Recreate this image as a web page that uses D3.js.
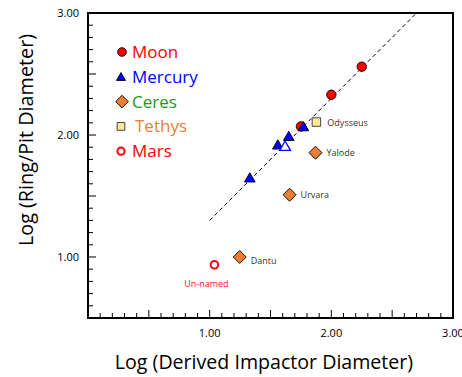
<!DOCTYPE html>
<html><head><meta charset="utf-8">
<script src="https://cdn.jsdelivr.net/npm/d3@7"></script>
<style>body{margin:0;background:#fff}svg{display:block}</style>
</head><body>
<script>
const moon = [[1.75,2.07],[2.00,2.33],[2.25,2.56]];
const mercury = [[1.77,2.06],[1.65,1.98],[1.56,1.91],[1.33,1.64]];
const mercuryOpen = [[1.62,1.90]];
const ceres = [[1.87,1.855,"Yalode"],[1.657,1.51,"Urvara"],[1.247,1.0,"Dantu"]];
const tethys = [[1.877,2.106,"Odysseus"]];
const mars = [[1.039,0.936,"Un-named"]];
const fitLine = [[1.0,1.3],[2.7,3.0]];
const xTicks = [1,2,3];
const yTicks = [1,2,3];
const legendItems = [
  {name:"Moon", color:"#ff0000"},
  {name:"Mercury", color:"#0000ff"},
  {name:"Ceres", color:"#1e961e"},
  {name:"Tethys", color:"#ed7d31"},
  {name:"Mars", color:"#ff0000"}
];

const W=462,H=377, L=88,R=453,T=13,B=318;
const svg=d3.select("body").append("svg").attr("width",W).attr("height",H);
const x=d3.scaleLinear().domain([0,3]).range([L,R]);
const y=d3.scaleLinear().domain([0.5,3]).range([B,T]);
const font="'Open Sans', sans-serif";

// minor / major ticks (inward)
const xMinor=d3.range(0,31).map(i=>i/10);
svg.append("g").selectAll("line").data(xMinor).join("line")
  .attr("x1",d=>x(d)).attr("x2",d=>x(d))
  .attr("y1",B).attr("y2",(d,i)=>B-(i%5===0?8:5))
  .attr("stroke","#000").attr("stroke-width",1);
const yMinor=d3.range(5,31).map(i=>i/10);
svg.append("g").selectAll("line").data(yMinor).join("line")
  .attr("y1",d=>y(d)).attr("y2",d=>y(d))
  .attr("x1",L).attr("x2",(d,i)=>L+(Math.round(d*10)%5===0?8:5))
  .attr("stroke","#000").attr("stroke-width",1);

// frame
svg.append("rect").attr("x",L).attr("y",T).attr("width",R-L).attr("height",B-T)
  .attr("fill","none").attr("stroke","#000").attr("stroke-width",2);

// tick labels
svg.append("g").selectAll("text").data(xTicks).join("text")
  .attr("x",d=>x(d)).attr("y",B+19).attr("text-anchor","middle")
  .attr("font-family",font).attr("font-size",11).attr("fill","#000")
  .text(d=>d.toFixed(2));
svg.append("g").selectAll("text").data(yTicks).join("text")
  .attr("x",L-9).attr("y",d=>y(d)+4).attr("text-anchor","end")
  .attr("font-family",font).attr("font-size",11).attr("fill","#000")
  .text(d=>d.toFixed(2));

// axis titles
svg.append("text").attr("x",264).attr("y",369).attr("text-anchor","middle")
  .attr("font-family",font).attr("font-size",19.6).attr("fill","#000")
  .text("Log (Derived Impactor Diameter)");
svg.append("text").attr("transform","translate(33,140) rotate(-90)").attr("text-anchor","middle")
  .attr("font-family",font).attr("font-size",19.8).attr("fill","#000")
  .text("Log (Ring/Pit Diameter)");

// fit line
svg.append("line").attr("x1",x(fitLine[0][0])).attr("y1",y(fitLine[0][1]))
  .attr("x2",x(fitLine[1][0])).attr("y2",y(fitLine[1][1]))
  .attr("stroke","#000").attr("stroke-width",1).attr("stroke-dasharray","4,3");

const tri=d3.symbol().type(d3.symbolTriangle);
const sq=d3.symbol().type(d3.symbolSquare);
const dia=(s)=>`M0,${-s}L${s},0L0,${s}L${-s},0Z`;

// moon
svg.append("g").selectAll("circle").data(moon).join("circle")
  .attr("cx",d=>x(d[0])).attr("cy",d=>y(d[1])).attr("r",4.7)
  .attr("fill","#ff0000").attr("stroke","#000").attr("stroke-width",0.9);
// mercury
svg.append("g").selectAll("path").data(mercury).join("path")
  .attr("d",tri.size(50)).attr("transform",d=>`translate(${x(d[0])},${y(d[1])})`)
  .attr("fill","#0000ff").attr("stroke","#000").attr("stroke-width",0.9);
svg.append("g").selectAll("path").data(mercuryOpen).join("path")
  .attr("d",tri.size(50)).attr("transform",d=>`translate(${x(d[0])},${y(d[1])})`)
  .attr("fill","#fff").attr("stroke","#0000ff").attr("stroke-width",1.3);
// ceres
svg.append("g").selectAll("path").data(ceres).join("path")
  .attr("d",dia(6.5)).attr("transform",d=>`translate(${x(d[0])},${y(d[1])})`)
  .attr("fill","#ed7d31").attr("stroke","#000").attr("stroke-width",0.9);
// tethys
svg.append("g").selectAll("path").data(tethys).join("path")
  .attr("d",sq.size(72)).attr("transform",d=>`translate(${x(d[0])},${y(d[1])})`)
  .attr("fill","#ffe699").attr("stroke","#333").attr("stroke-width",0.9);
// mars
svg.append("g").selectAll("circle").data(mars).join("circle")
  .attr("cx",d=>x(d[0])).attr("cy",d=>y(d[1])).attr("r",3.8)
  .attr("fill","#fff").attr("stroke","#ff0000").attr("stroke-width",2);

// point labels
const lab=svg.append("g").attr("font-family",font).attr("font-size",9).attr("fill","#333");
ceres.concat(tethys).forEach(d=>{
  lab.append("text").attr("x",x(d[0])+11).attr("y",y(d[1])+(d[2]==="Dantu"?7:3.5)).text(d[2]);
});
mars.forEach(d=>{
  lab.append("text").attr("x",x(d[0])-8).attr("y",y(d[1])+22).attr("text-anchor","middle")
    .attr("fill","#ff2020").text(d[2]);
});

// legend
const lg=svg.append("g");
legendItems.forEach((it,i)=>{
  const cy=52+i*24.8, mx=121;
  const g=lg.append("g");
  if(i===0) g.append("circle").attr("cx",mx+1).attr("cy",cy).attr("r",4.3).attr("fill","#ff0000").attr("stroke","#000").attr("stroke-width",0.9);
  if(i===1) g.append("path").attr("d",tri.size(36)).attr("transform",`translate(${mx},${cy+1})`).attr("fill","#0000ff").attr("stroke","#000").attr("stroke-width",0.9);
  if(i===2) g.append("path").attr("d",dia(6.3)).attr("transform",`translate(${mx+1},${cy})`).attr("fill","#ed7d31").attr("stroke","#000").attr("stroke-width",0.9);
  if(i===3) g.append("path").attr("d",sq.size(60)).attr("transform",`translate(${mx},${cy})`).attr("fill","#ffe699").attr("stroke","#333").attr("stroke-width",0.9);
  if(i===4) g.append("circle").attr("cx",mx).attr("cy",cy).attr("r",3.6).attr("fill","#fff").attr("stroke","#ff0000").attr("stroke-width",2);
  g.append("text").attr("x",i===3?135:132).attr("y",cy+6).attr("font-family",font).attr("font-size",17)
    .attr("fill",it.color).text(it.name);
});
</script>
</body></html>
